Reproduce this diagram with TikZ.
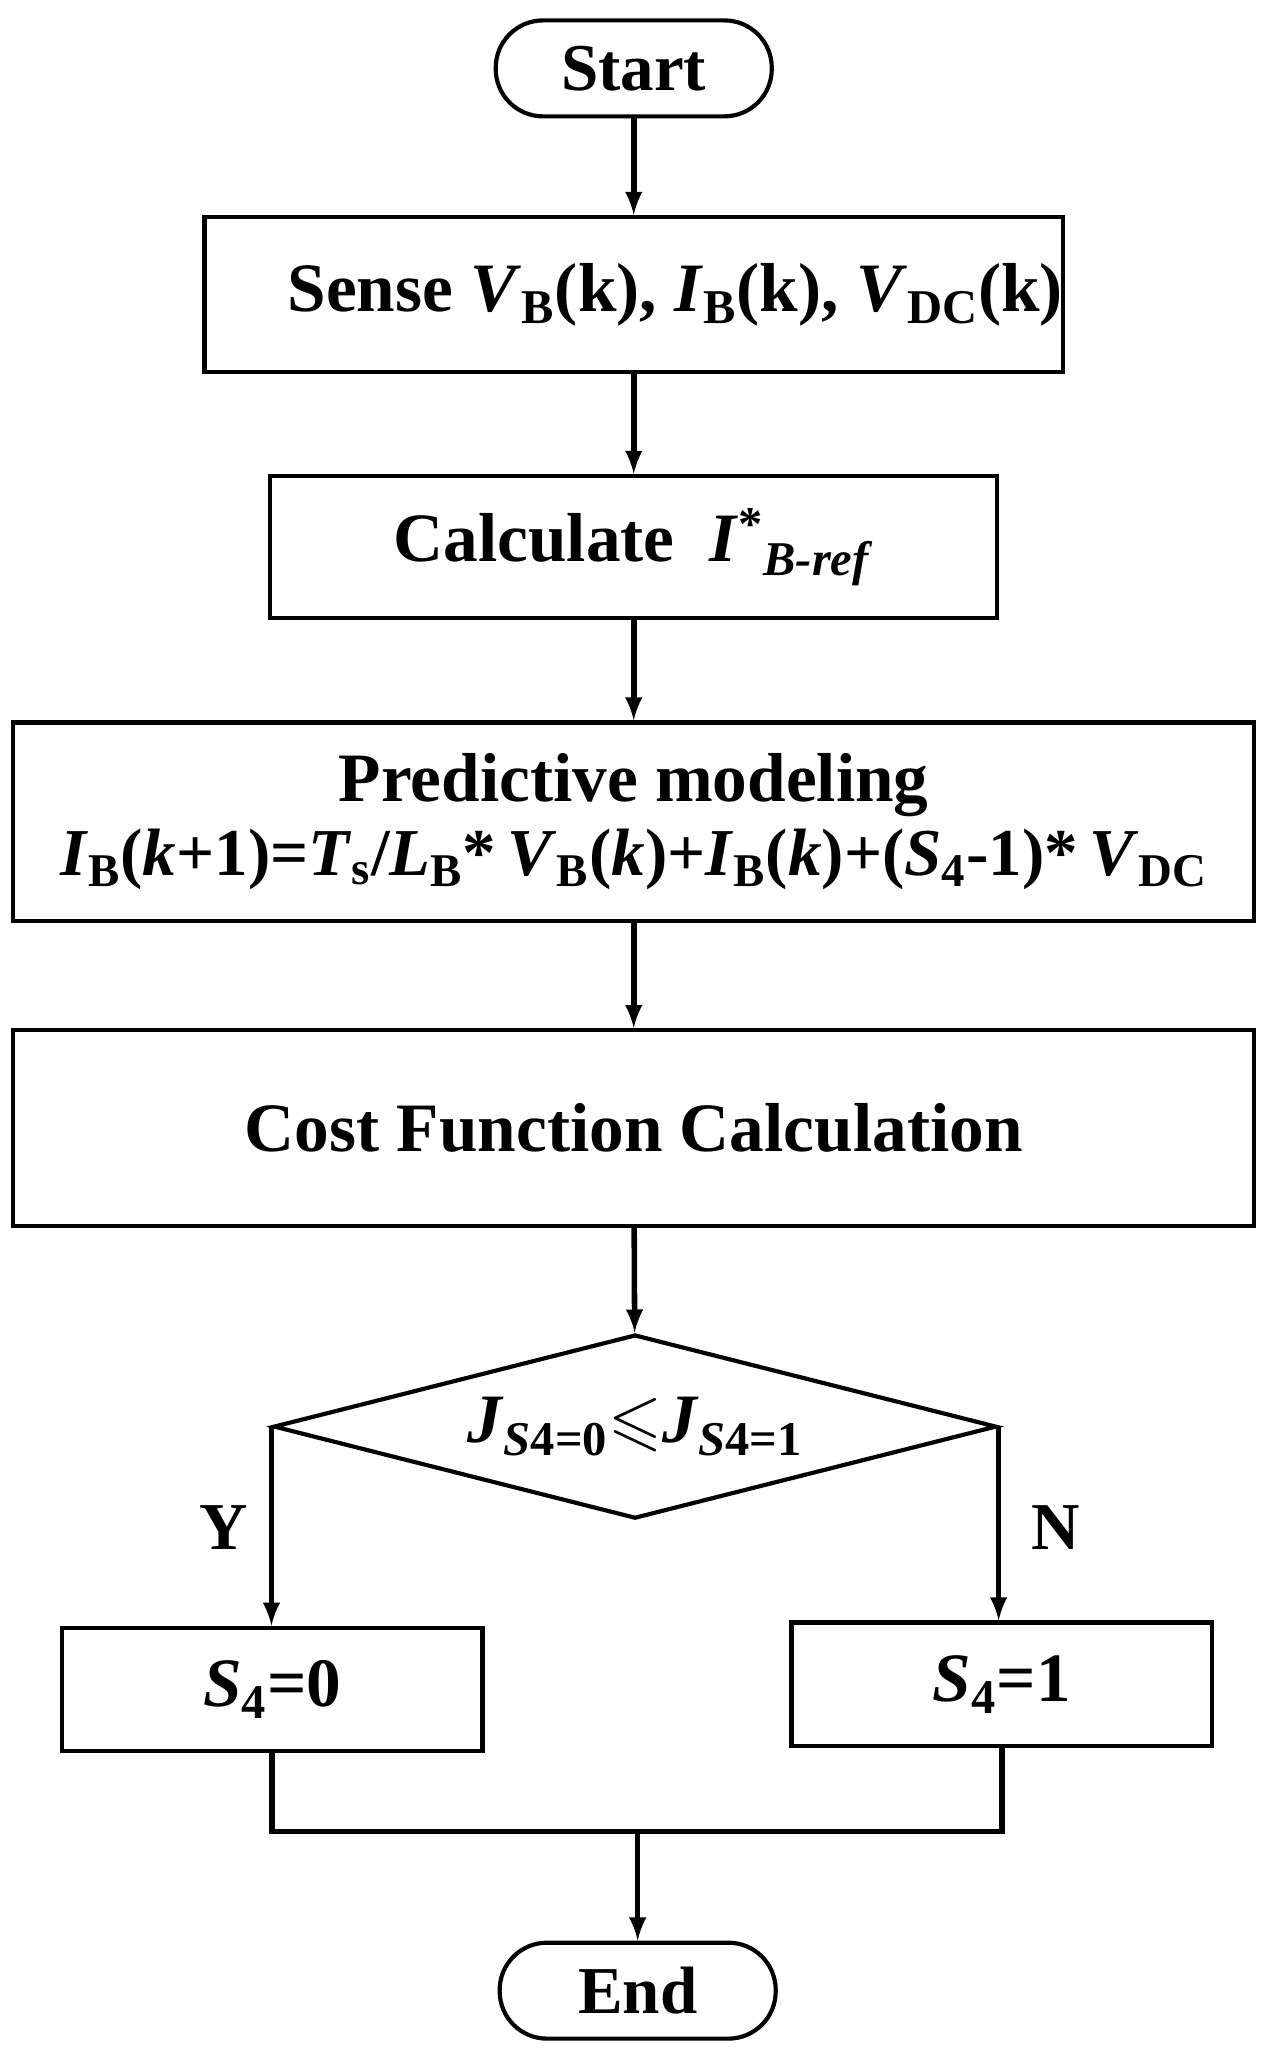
\documentclass[tikz,border=0pt]{standalone}
\usepackage{amssymb}
\usepackage{fontspec}
\setmainfont{Liberation Serif}
\usetikzlibrary{shapes.geometric}
\newcommand{\vsub}[2]{\textit{#1}\textsubscript{#2}}
\begin{document}
\begin{tikzpicture}[x=0.02cm,y=-0.02cm,
  box/.style={draw=black,line width=1.8pt,inner sep=0pt,align=center,
    font=\fontsize{30}{34}\selectfont\bfseries},
  term/.style={box,rounded corners=0.72cm,minimum width=4.2cm,minimum height=1.46cm,
    font=\fontsize{29}{32}\selectfont\bfseries},
  decision/.style={box,diamond,aspect=3.93,minimum width=11cm,minimum height=2.8cm},
  flow/.style={-latex,line width=2.4pt,draw=black},
  link/.style={line width=2.4pt,draw=black},
  answer/.style={font=\fontsize{29}{32}\selectfont\bfseries}
]
  \useasboundingbox (0,0) rectangle (964,1566);
  \node[term] (start) at (482,52) {Start};
  \node[box,minimum width=12.98cm,minimum height=2.36cm] (sense) at (482,224)
    {\hspace{1.2em}Sense \vsub{V}{B}(k), \vsub{I}{B}(k), \vsub{V}{DC}(k)};
  \node[box,minimum width=11.06cm,minimum height=2.16cm] (calc) at (482,416)
    {Calculate\ \ \textit{I}\textsuperscript{*}\textsubscript{\textit{B-ref}}};
  \node[box,minimum width=18.88cm,minimum height=3.02cm] (model) at (482,625)
    {Predictive modeling\\[-2pt]
     {\fontsize{29}{34}\selectfont\vsub{I}{B}(\textit{k}+1)=\vsub{T}{s}/\vsub{L}{B}*\,\vsub{V}{B}(\textit{k})+\vsub{I}{B}(\textit{k})+(\vsub{S}{4}-1)*\,\vsub{V}{DC}}};
  \node[box,minimum width=18.88cm,minimum height=2.98cm] (cost) at (482,858)
    {Cost Function Calculation};
  \node[decision] (cmp) at (483,1085)
    {\vsub{J}{\textit{S}4=0}$\leqslant$\vsub{J}{\textit{S}4=1}};
  \node[box,minimum width=6.4cm,minimum height=1.88cm] (s0) at (207,1285) {\vsub{S}{4}=0};
  \node[box,minimum width=6.4cm,minimum height=1.88cm] (s1) at (762,1281) {\vsub{S}{4}=1};
  \node[term] (end) at (485,1514) {End};
  \coordinate (merge) at (485,1393);
  \node[answer] (yes) at (170,1162) {Y};
  \node[answer] (no) at (803,1162) {N};

  \draw[flow] (start) -- (sense);
  \draw[flow] (sense) -- (calc);
  \draw[flow] (calc) -- (model);
  \draw[flow] (model) -- (cost);
  \draw[flow] (cost) -- (cmp);
  \draw[flow] (cmp.west) -- (cmp.west |- s0.north);
  \draw[flow] (cmp.east) -- (cmp.east |- s1.north);
  \draw[link] (s0.south) |- (merge) -| (s1.south);
  \draw[flow] (merge) -- (end);
\end{tikzpicture}
\end{document}
